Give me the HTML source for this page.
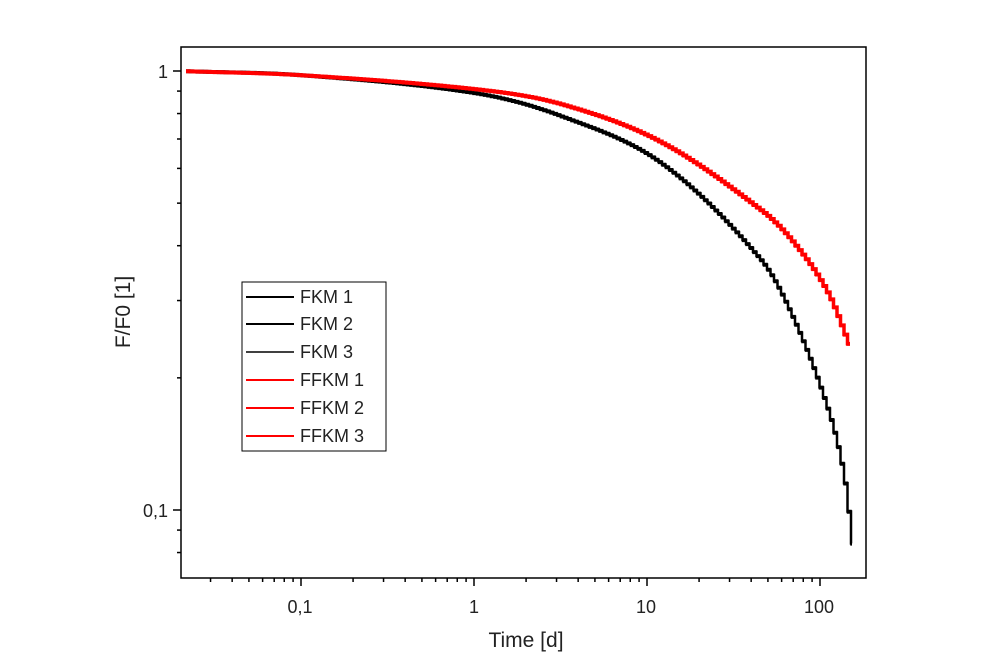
<!DOCTYPE html>
<html><head><meta charset="utf-8"><style>
html,body{margin:0;padding:0;background:#fff;}
svg{display:block;font-family:"Liberation Sans",Arial,sans-serif;}
</style></head><body>
<svg id="s" width="1000" height="670" viewBox="0 0 1000 670" xmlns="http://www.w3.org/2000/svg">
<rect x="181" y="47" width="685" height="531" fill="none" stroke="#000" stroke-width="1.5"/>
<g id="ticks" stroke="#000" stroke-width="1.5"></g>
<g font-size="18" fill="#222">
<text x="168" y="78" text-anchor="end">1</text>
<text x="168" y="517" text-anchor="end">0,1</text>
<text x="300" y="613" text-anchor="middle">0,1</text>
<text x="474" y="613" text-anchor="middle">1</text>
<text x="646" y="613" text-anchor="middle">10</text>
<text x="819" y="613" text-anchor="middle">100</text>
</g>
<text x="526" y="647" font-size="21" text-anchor="middle" fill="#222">Time [d]</text>
<text transform="translate(130,312) rotate(-90)" font-size="21" text-anchor="middle" fill="#222">F/F0 [1]</text>
<g id="curves" fill="none"></g>
<rect x="242" y="282" width="144" height="169" fill="#fff" stroke="#000" stroke-width="1"/>
<g font-size="18" fill="#222">
<line x1="246" y1="297" x2="294" y2="297" stroke="#000" stroke-width="2"/><text x="300" y="303">FKM 1</text>
<line x1="246" y1="324" x2="294" y2="324" stroke="#000" stroke-width="2"/><text x="300" y="330">FKM 2</text>
<line x1="246" y1="352" x2="294" y2="352" stroke="#000" stroke-width="1.5"/><text x="300" y="358">FKM 3</text>
<line x1="246" y1="380" x2="294" y2="380" stroke="#f00" stroke-width="2"/><text x="300" y="386">FFKM 1</text>
<line x1="246" y1="408" x2="294" y2="408" stroke="#f00" stroke-width="2"/><text x="300" y="414">FFKM 2</text>
<line x1="246" y1="436" x2="294" y2="436" stroke="#f00" stroke-width="2"/><text x="300" y="442">FFKM 3</text>
</g>
</svg>
<script>
var NS="http://www.w3.org/2000/svg";
function el(p,t,a){var e=document.createElementNS(NS,t);for(var k in a)e.setAttribute(k,a[k]);p.appendChild(e);return e;}
var tk=document.getElementById("ticks");
var X=function(t){return 474+173*Math.log10(t);};
var Y=function(v){return 71-439*Math.log10(v);};
for(var d=-2;d<=2;d++){for(var m=1;m<=9;m++){var t=m*Math.pow(10,d);var x=X(t);if(x<181||x>866)continue;
var L=(m==1)?8:4;el(tk,"line",{x1:x,y1:578,x2:x,y2:578+L});}}
for(var d=-2;d<=0;d++){for(var m=1;m<=9;m++){var v=m*Math.pow(10,d);var y=Y(v);if(y<47||y>578)continue;
var L=(m==1)?8:4;el(tk,"line",{x1:181,y1:y,x2:181-L,y2:y});}}
function interp(pts,x){for(var i=0;i<pts.length-1;i++){if(x<=pts[i+1][0]){var a=pts[i],b=pts[i+1];
var p0=pts[Math.max(0,i-1)],p3=pts[Math.min(pts.length-1,i+2)];var u=(x-a[0])/(b[0]-a[0]);
var m1=(b[1]-p0[1])/(b[0]-p0[0])*(b[0]-a[0]),m2=(p3[1]-a[1])/(p3[0]-a[0])*(b[0]-a[0]);
var h00=2*u*u*u-3*u*u+1,h10=u*u*u-2*u*u+u,h01=-2*u*u*u+3*u*u,h11=u*u*u-u*u;
return h00*a[1]+h10*m1+h01*b[1]+h11*m2;}}return pts[pts.length-1][1];}
function curve(pts,col,w,off){var d="";var x0=pts[0][0],x1=pts[pts.length-1][0];var step=3.5;var py=null;
for(var x=x0;x<=x1;x+=step){var y=interp(pts,x)+off;if(py===null)d+="M"+x+" "+y;else d+="V"+y;d+="H"+Math.min(x+step,x1);py=y;}
el(document.getElementById("curves"),"path",{d:d,stroke:col,"stroke-width":w});}
var B=[[186,71],[300,75],[474,93],[560,116],[660,163],[760,260],[793,320],[827,410],[843,477],[852,552]];
var R=[[186,71],[300,75],[474,89],[560,104],[660,142],[760,210],[793,243],[827,293],[850,350]];
curve(B,"#000",2.5,0);curve(B,"#000",1.5,1.5);curve(B,"#000",1.5,-1);
curve(R,"#f00",3.5,0);curve(R,"#f00",2.5,1);
</script>
</body></html>
